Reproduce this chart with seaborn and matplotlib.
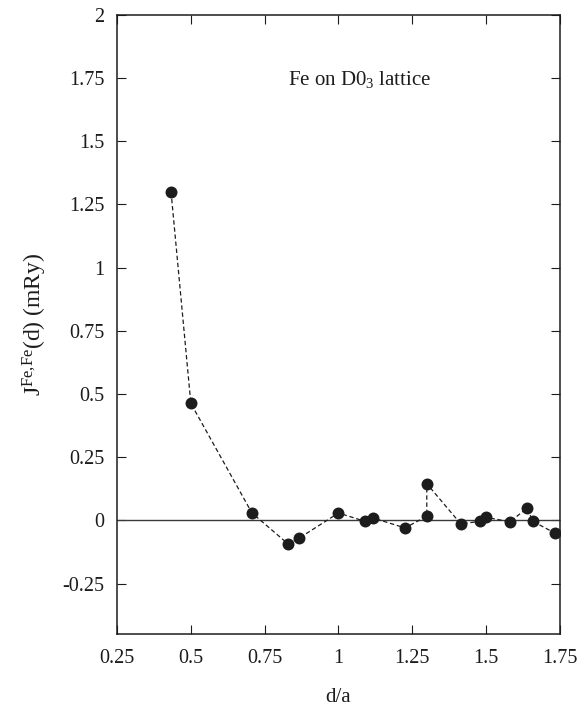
import pandas as pd
import matplotlib
matplotlib.use("Agg")
import matplotlib.pyplot as plt
import seaborn as sns

# pair exchange J^{Fe,Fe}(d) vs shell distance d/a
d_over_a = [0.433, 0.500, 0.707, 0.829, 0.866, 1.000, 1.090, 1.118, 1.225,
            1.299, 1.299, 1.414, 1.479, 1.500, 1.581, 1.639, 1.658, 1.732]
j_fefe = [1.300, 0.463, 0.029, -0.093, -0.071, 0.029, -0.004, 0.009, -0.030,
          0.016, 0.145, -0.014, -0.004, 0.012, -0.006, 0.049, -0.004, -0.050]

x_ticks = [0.25, 0.5, 0.75, 1, 1.25, 1.5, 1.75]
x_tick_labels = ["0.25", "0.5", "0.75", "1", "1.25", "1.5", "1.75"]
y_ticks = [-0.25, 0, 0.25, 0.5, 0.75, 1, 1.25, 1.5, 1.75, 2]
y_tick_labels = ["-0.25", "0", "0.25", "0.5", "0.75", "1", "1.25", "1.5", "1.75", "2"]


def make_plot():
    sns.set_theme(style="ticks")
    plt.rcParams["font.family"] = ["Liberation Serif", "DejaVu Serif"]
    plt.rcParams["mathtext.fontset"] = "custom"
    plt.rcParams["mathtext.rm"] = "Liberation Serif"
    plt.rcParams["mathtext.it"] = "Liberation Serif:italic"

    df = pd.DataFrame({"d": d_over_a, "J": j_fefe})

    fig = plt.figure(figsize=(5.83, 7.07), dpi=100)
    ax = fig.add_axes([0.2007, 0.1032, 0.7598, 0.8756])

    ax.axhline(0, color="#3a3a3a", lw=1.0, zorder=1)

    sns.lineplot(data=df, x="d", y="J", sort=False, estimator=None,
                 color="#1c1c1c", lw=0.9, marker="o", markersize=8.6,
                 mec="#1c1c1c", mew=0, ax=ax, zorder=3)
    ax.lines[-1].set_linestyle((0, (3.5, 2.2)))

    ax.set_xlim(0.25, 1.75)
    ax.set_ylim(-0.45, 2)
    ax.set_xticks(x_ticks)
    ax.set_xticklabels(x_tick_labels)
    ax.set_yticks(y_ticks)
    ax.set_yticklabels(y_tick_labels)

    ax.tick_params(direction="in", length=6.5, width=0.8, top=True, right=True,
                   labelsize=14.5, colors="#1c1c1c")
    ax.tick_params(axis="x", pad=11)
    ax.tick_params(axis="y", pad=9)
    for s in ax.spines.values():
        s.set_linewidth(1.1)
        s.set_color("#1c1c1c")

    ax.set_xlabel("d/a", fontsize=15, labelpad=14, color="#1c1c1c")
    ax.set_ylabel(r"$\mathregular{J^{Fe{,}Fe}(d)}$ (mRy)", fontsize=17,
                  labelpad=10, color="#1c1c1c")

    ax.text(0.386, 0.895, r"Fe on D0$_\mathregular{3}$ lattice", transform=ax.transAxes,
            fontsize=15, ha="left", va="center", color="#1c1c1c")

    fig.savefig("out.png", dpi=100)
    plt.close(fig)


if __name__ == "__main__":
    make_plot()
